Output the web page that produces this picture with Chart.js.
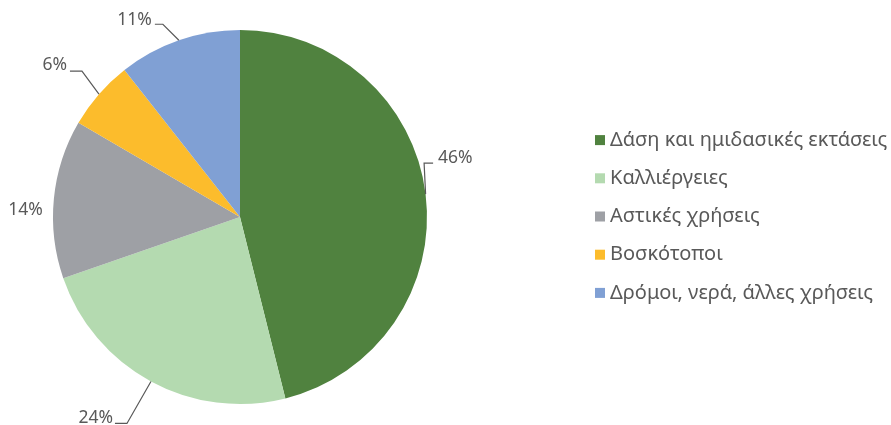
<!DOCTYPE html>
<html>
<head>
<meta charset="utf-8">
<script src="https://cdn.jsdelivr.net/npm/chart.js@4/dist/chart.umd.min.js"></script>
<style>
  html, body { margin: 0; padding: 0; background: #fff; }
</style>
</head>
<body>
<canvas id="grafico" width="891" height="425"></canvas>
<script>
var categorias = ["Δάση και ημιδασικές εκτάσεις", "Καλλιέργειες", "Αστικές χρήσεις", "Βοσκότοποι", "Δρόμοι, νερά, άλλες χρήσεις"];
var valores = [46.1, 23.6, 13.7, 6.0, 10.6];
var rotulos = ["46%", "24%", "14%", "6%", "11%"];
var cores = ["#50823f", "#b4dab0", "#9ea0a5", "#fcbc2c", "#80a0d4"];

// posição dos rótulos relativa ao ponto médio do arco
var posRotulos = [
    { cotovelo: [-1.5, -31], fim: [7.5, -31], texto: [12.5, -36], alinh: "left" },
    { cotovelo: [-24, 42], fim: [-36, 42], texto: [-38, 37], alinh: "right" },
    { cotovelo: null, fim: null, texto: [-11, 11], alinh: "right" },
    { cotovelo: [-17, -23], fim: [-29, -23], texto: [-32, -29.5], alinh: "right" },
    { cotovelo: [-16, -16], fim: [-24, -16], texto: [-27, -20.5], alinh: "right" }
];

var rotulosPlugin = {
    id: "rotulos",
    afterDatasetsDraw: function (chart) {
        var ctx = chart.ctx;
        var arcos = chart.getDatasetMeta(0).data;
        ctx.save();
        ctx.font = "17.5px 'Noto Sans'";
        ctx.fillStyle = "#595959";
        ctx.strokeStyle = "#595959";
        ctx.lineWidth = 1.2;
        ctx.textBaseline = "middle";
        arcos.forEach(function (arco, i) {
            var p = arco.getProps(["x", "y", "startAngle", "endAngle", "outerRadius"], true);
            var meio = (p.startAngle + p.endAngle) / 2;
            var ax = p.x + Math.cos(meio) * p.outerRadius;
            var ay = p.y + Math.sin(meio) * p.outerRadius;
            var pos = posRotulos[i];
            if (pos.cotovelo) {
                ctx.beginPath();
                ctx.moveTo(ax, ay);
                ctx.lineTo(ax + pos.cotovelo[0], ay + pos.cotovelo[1]);
                ctx.lineTo(ax + pos.fim[0], ay + pos.fim[1]);
                ctx.stroke();
            }
            ctx.textAlign = pos.alinh;
            ctx.fillText(rotulos[i], ax + pos.texto[0], ay + pos.texto[1]);
        });
        ctx.restore();
    }
};

// legenda desenhada à direita, fora da área do gráfico
var legendaPlugin = {
    id: "legenda",
    afterDraw: function (chart) {
        var ctx = chart.ctx;
        var ds = chart.data.datasets[0];
        var n = chart.data.labels.length;
        var passo = 38.2;
        var y0 = 216.5 - passo * (n - 1) / 2;
        ctx.save();
        ctx.font = "20px 'Noto Sans'";
        ctx.textBaseline = "middle";
        ctx.textAlign = "left";
        chart.data.labels.forEach(function (rot, i) {
            var y = y0 + i * passo;
            ctx.fillStyle = ds.backgroundColor[i];
            ctx.fillRect(595, y - 5, 10, 10);
            ctx.fillStyle = "#595959";
            ctx.fillText(rot, 610, y);
        });
        ctx.restore();
    }
};

var ctx = document.getElementById("grafico").getContext("2d");

var grafico = new Chart(ctx, {
    type: 'pie',
    data: {
        labels: categorias,
        datasets: [{
            data: valores,
            backgroundColor: cores,
            borderWidth: 0,
            hoverOffset: 0
        }]
    },
    options: {
        responsive: false,
        animation: false,
        layout: {
            padding: { left: 0, right: 411, top: 30, bottom: 21 }
        },
        plugins: {
            legend: { display: false },
            tooltip: { enabled: false }
        }
    },
    plugins: [rotulosPlugin, legendaPlugin]
});
</script>
</body>
</html>
